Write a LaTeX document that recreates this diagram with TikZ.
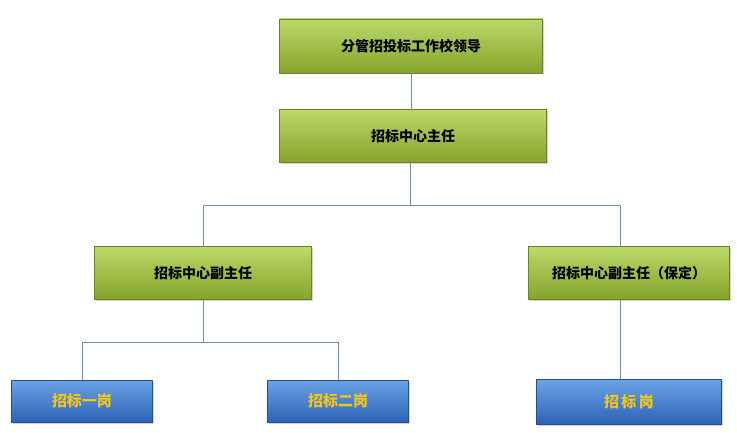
\documentclass[tikz,border=0pt]{standalone}
\usepackage{fontspec}
\setmainfont{Noto Sans CJK SC}
\usetikzlibrary{shadows}
\definecolor{grtop}{HTML}{BCD86A}
\definecolor{grbot}{HTML}{86A42C}
\definecolor{bltop}{HTML}{6AA3E6}
\definecolor{blbot}{HTML}{2B63B5}
\definecolor{txty}{HTML}{F2C51A}
\definecolor{linec}{HTML}{6F8FA8}
\tikzset{
  greenbox/.style={draw=grbot!80!black, top color=grtop, bottom color=grbot,
    drop shadow={shadow xshift=1.5pt, shadow yshift=-1.5pt, opacity=0.35},
    minimum height=53pt, font=\bfseries\fontsize{14pt}{15pt}\selectfont, inner sep=0pt},
  bluebox/.style={draw=blbot!80!black, top color=bltop, bottom color=blbot,
    drop shadow={shadow xshift=1.5pt, shadow yshift=-1.5pt, opacity=0.35},
    minimum height=42pt, text=txty, font=\bfseries\fontsize{15pt}{16pt}\selectfont, inner sep=0pt},
  link/.style={draw=linec, line width=0.7pt}
}
\begin{document}
\begin{tikzpicture}[x=1pt,y=-1pt]
\useasboundingbox (0,0) rectangle (737,433);
% upper levels
\node[greenbox, minimum width=263pt, minimum height=54pt] (ld) at (411,46) {分管招投标工作校领导};
\node[greenbox, minimum width=267pt] (zr) at (413,136) {招标中心主任};
\node[greenbox, minimum width=217pt] (fzl) at (203,273) {招标中心副主任};
\node[greenbox, minimum width=201pt] (fzr) at (629,273) {招标中心副主任（保定）};
% posts
\node[bluebox, minimum width=141pt] (g1) at (82,401) {招标一岗};
\node[bluebox, minimum width=141pt] (g2) at (338,401) {招标二岗};
\node[bluebox, minimum width=185pt, minimum height=45pt] (g3) at (629,402) {招\,标\,岗};
% connectors
\coordinate (b1) at (410,205);
\coordinate (b2) at (203,342);
\coordinate (b3) at (620,300);
\draw[link] (ld.south) -- (ld.south |- zr.north);
\draw[link] (zr.south -| b1) -- (b1) -| (fzl.north);
\draw[link] (b1) -| (b3 |- fzr.north);
\draw[link] (fzl.south) -- (b2) -| (g1.north);
\draw[link] (b2) -| (g2.north);
\draw[link] (b3) -- (b3 |- g3.north);
\end{tikzpicture}
\end{document}
